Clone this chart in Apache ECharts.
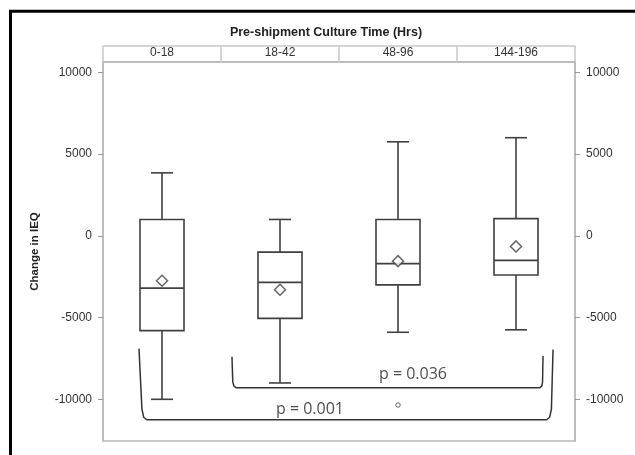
<!DOCTYPE html>
<html><head><meta charset="utf-8">
<script src="https://cdn.jsdelivr.net/npm/echarts@6/dist/echarts.min.js"></script>
<style>html,body{margin:0;padding:0;background:#fff}#c{width:635px;height:455px}</style>
</head><body><div id="c"></div>
<script>
// ---- data ----
const categories = ['0-18', '18-42', '48-96', '144-196'];
const whiskerLow  = [-10000, -9000, -5900, -5750];
const q1          = [-5800, -5050, -3000, -2400];
const median      = [-3200, -2850, -1700, -1500];
const q3          = [1000, -1000, 1000, 1050];
const whiskerHigh = [3850, 1000, 5750, 6000];
const means       = [-2750, -3300, -1550, -650];
const outliers    = [[2, -10350]];
const yTicks      = [-10000, -5000, 0, 5000, 10000];
const pTexts      = ['p = 0.036', 'p = 0.001'];
const pAnchors    = [[2.627, -8500], [1.754, -10640]];
const bracketInner = [[1.093, -7400], [1.100, -8950], [1.110, -9200], [1.130, -9296], [3.700, -9296], [3.718, -9200], [3.725, -8950], [3.729, -7350]];
const bracketOuter = [[0.305, -6900], [0.330, -10600], [0.345, -11100], [0.370, -11250], [3.760, -11250], [3.785, -11100], [3.800, -10600], [3.814, -6950]];

const chart = echarts.init(document.getElementById('c'), null, {renderer: 'canvas'});
const STROKE = '#404040';
const FRAME = '#b8b8b8';
const FONT = 'Liberation Sans, Arial, sans-serif';

const boxData = categories.map((c, i) => [i, whiskerLow[i], q1[i], median[i], q3[i], whiskerHigh[i]]);

function yAxisBase(pos) {
  return {
    type: 'value', position: pos, min: -12550, max: 10630,
    axisLine: {show: true, lineStyle: {color: FRAME, width: 1.5}},
    axisTick: {show: true, length: 5, customValues: yTicks, lineStyle: {color: '#999'}},
    axisLabel: {customValues: yTicks, margin: 11, color: '#333', fontSize: 12, fontFamily: FONT,
                formatter: function (v) { return String(v); }},
    splitLine: {show: false}
  };
}
const yLeft = Object.assign(yAxisBase('left'), {
  name: 'Change in IEQ', nameLocation: 'middle', nameGap: 62,
  nameTextStyle: {fontWeight: 'bold', fontSize: 11.5, color: '#222', fontFamily: FONT}
});
const yRight = yAxisBase('right');

chart.setOption({
  animation: false,
  backgroundColor: '#fff',
  grid: {left: 103, right: 60, top: 62, bottom: 14, show: true, borderColor: FRAME, borderWidth: 1.5, containLabel: false},
  xAxis: [
    {type: 'category', data: categories, position: 'top', boundaryGap: true,
     axisLine: {show: true, onZero: false, lineStyle: {color: FRAME, width: 1.5}},
     axisTick: {show: true, length: 16, inside: false, alignWithLabel: false, lineStyle: {color: '#c8c8c8', width: 1.5}},
     axisLabel: {margin: 3, color: '#333', fontSize: 12, fontFamily: FONT},
     splitLine: {show: false}},
    {type: 'value', min: 0, max: 4, show: false},
    {type: 'category', data: categories, position: 'top', offset: 16,
     axisLine: {show: true, onZero: false, lineStyle: {color: '#c8c8c8', width: 1.5}},
     axisTick: {show: false}, axisLabel: {show: false}}
  ],
  yAxis: [yLeft, yRight],
  graphic: [
    {type: 'rect', shape: {x: 10.5, y: 11.3, width: 900, height: 900}, style: {fill: null, stroke: '#000', lineWidth: 3}, silent: true},
    {type: 'text', x: 326, y: 33, style: {text: 'Pre-shipment Culture Time (Hrs)', align: 'center', verticalAlign: 'middle', fontSize: 12.5, fontWeight: 'bold', fontFamily: FONT, fill: '#222'}, silent: true}
  ],
  series: [
    {
      type: 'custom', xAxisIndex: 0, yAxisIndex: 0, data: boxData,
      encode: {x: 0, y: [1, 2, 3, 4, 5]},
      renderItem: function (params, api) {
        const i = api.value(0);
        const lo = api.coord([i, api.value(1)]);
        const b1 = api.coord([i, api.value(2)]);
        const md = api.coord([i, api.value(3)]);
        const b3 = api.coord([i, api.value(4)]);
        const hi = api.coord([i, api.value(5)]);
        const bw = api.size([1, 0])[0] * 0.373;
        const cw = bw * 0.5;
        const x = lo[0];
        const st = {stroke: STROKE, lineWidth: 1.6, fill: null};
        return {type: 'group', children: [
          {type: 'line', shape: {x1: x, y1: b3[1], x2: x, y2: hi[1]}, style: st},
          {type: 'line', shape: {x1: x, y1: b1[1], x2: x, y2: lo[1]}, style: st},
          {type: 'line', shape: {x1: x - cw / 2, y1: hi[1], x2: x + cw / 2, y2: hi[1]}, style: st},
          {type: 'line', shape: {x1: x - cw / 2, y1: lo[1], x2: x + cw / 2, y2: lo[1]}, style: st},
          {type: 'rect', shape: {x: x - bw / 2, y: b3[1], width: bw, height: b1[1] - b3[1]}, style: {stroke: STROKE, lineWidth: 1.6, fill: '#fff'}},
          {type: 'line', shape: {x1: x - bw / 2, y1: md[1], x2: x + bw / 2, y2: md[1]}, style: st}
        ]};
      }
    },
    {
      type: 'scatter', xAxisIndex: 0, yAxisIndex: 0, symbol: 'diamond', symbolSize: [11, 11],
      data: means.map((v, i) => [i, v]),
      itemStyle: {color: '#fff', borderColor: STROKE, borderWidth: 1.5}, z: 5
    },
    {
      type: 'scatter', xAxisIndex: 0, yAxisIndex: 0, symbol: 'circle', symbolSize: 4.5,
      data: outliers,
      itemStyle: {color: '#fff', borderColor: STROKE, borderWidth: 1}, z: 5
    },
    {
      type: 'line', xAxisIndex: 1, yAxisIndex: 0, data: bracketOuter, symbol: 'none', silent: true,
      lineStyle: {color: '#333', width: 1.5}
    },
    {
      type: 'line', xAxisIndex: 1, yAxisIndex: 0, data: bracketInner, symbol: 'none', silent: true,
      lineStyle: {color: '#333', width: 1.5}
    },
    {
      type: 'scatter', xAxisIndex: 1, yAxisIndex: 0, symbolSize: 1, silent: true,
      itemStyle: {color: 'rgba(0,0,0,0)'},
      data: pTexts.map((t, k) => ({name: t, value: pAnchors[k]})),
      label: {show: true, position: 'inside', formatter: '{b}', fontSize: 16, fontFamily: 'Open Sans, sans-serif', color: '#222'}
    }
  ]
});
</script></body></html>
